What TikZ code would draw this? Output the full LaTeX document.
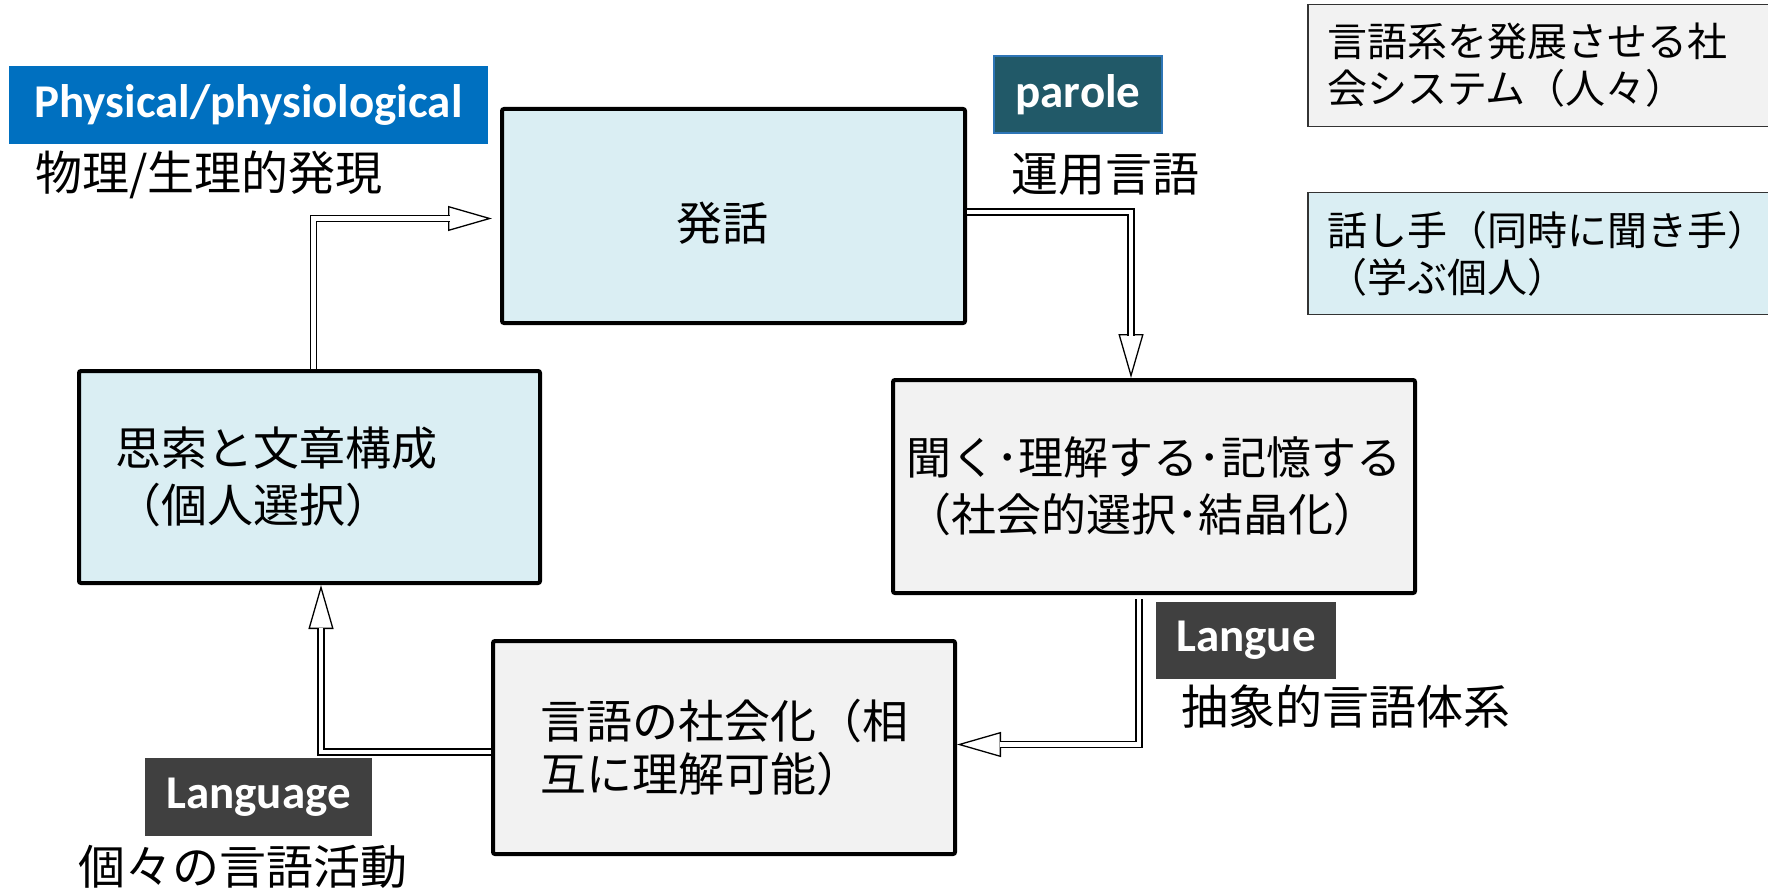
\documentclass[tikz,border=0pt]{standalone}
\usepackage{fontspec}
\newfontfamily\jp{Noto Sans CJK JP}
\newfontfamily\lat{Carlito}
\usetikzlibrary{arrows.meta}
\definecolor{lblue}{HTML}{DAEEF3}
\definecolor{lgray}{HTML}{F2F2F2}
\definecolor{tagblue}{HTML}{0070C0}
\definecolor{tagteal}{HTML}{215968}
\definecolor{tagtealedge}{HTML}{2E75B6}
\definecolor{tagdark}{HTML}{404040}
\begin{document}
\begin{tikzpicture}[x=1pt,y=-1pt,
  mainbox/.style={draw=black, line width=4pt, rounded corners=2pt, inner sep=0pt, align=left},
  sidebox/.style={draw=black!80, line width=1.5pt, inner sep=0pt, minimum width=480pt, minimum height=122pt, font=\jp\fontsize{40}{47}\selectfont, align=left, text width=442pt},
  tag/.style={inner sep=0pt, text=white, font=\lat\bfseries\fontsize{47}{56}\selectfont},
  jplabel/.style={anchor=west, inner sep=0pt, font=\jp\fontsize{47}{56}\selectfont},
  shaft/.style={draw=black, line width=1.3pt, double=white, double distance=4.5pt},
  headpass/.style={draw=white, line width=0.1pt, -{Triangle[length=44pt, width=25pt, color=black, fill=white, line width=1.3pt]}}
]
\useasboundingbox (0,0) rectangle (1768,893);
\clip (0,0) rectangle (1768,893);
\fill[white] (0,0) rectangle (1768,893);

% main boxes
\node[mainbox, fill=lblue, minimum width=463pt, minimum height=214pt, text height=49pt, text depth=0pt, font=\jp\fontsize{46}{57}\selectfont] (usage) at (733.5,216) {\hspace*{-22pt}発話};
\node[mainbox, fill=lblue, minimum width=461pt, minimum height=212pt, text width=389pt, inner xsep=36pt, font=\jp\fontsize{46}{57}\selectfont] (think) at (309.5,477) {思索と文章構成\\（個人選択）};
\node[mainbox, fill=lgray, minimum width=522pt, minimum height=213pt, text width=496pt, font=\jp\fontsize{45}{57}\selectfont] (listen) at (1154,486.5) {聞く･理解する･記憶する\\（社会的選択･結晶化）};
\node[mainbox, fill=lgray, minimum width=462pt, minimum height=213pt, text width=368pt, font=\jp\fontsize{46}{53}\selectfont] (social) at (724,747.5) {言語の社会化（相\\互に理解可能）};

% side boxes
\node[sidebox, fill=lgray] (society) at (1548,65.5) {言語系を発展させる社\\会システム（人々）};
\node[sidebox, fill=lblue] (speaker) at (1548,253.5) {話し手（同時に聞き手）\\（学ぶ個人）};

% tags
\node[tag, fill=tagblue, minimum width=479pt, minimum height=78pt] (phys) at (248.5,105) {Physical/physiological};
\node[tag, fill=tagteal, draw=tagtealedge, line width=1.5pt, minimum width=168pt, minimum height=77pt] (parole) at (1078,94.5) {parole};
\node[tag, fill=tagdark, minimum width=180pt, minimum height=77pt] (langue) at (1246,640.5) {Langue};
\node[tag, fill=tagdark, minimum width=227pt, minimum height=78pt] (language) at (258.5,797) {Language};

% labels
\node[jplabel] (physjp) at (35,175) {物理/生理的発現};
\node[jplabel] (parolejp) at (1011,174) {運用言語};
\node[jplabel] (languejp) at (1181,707) {抽象的言語体系};
\node[jplabel] (languagejp) at (78,867) {個々の言語活動};

% connectors
\draw[headpass, shorten >=8pt] ([xshift=4pt]think.north) |- ([yshift=-2.5pt]usage.west);
\draw[shaft, shorten >=50.5pt] ([xshift=4pt]think.north) |- ([yshift=-2.5pt]usage.west);

\draw[headpass] ([yshift=4pt]usage.east) -| ([xshift=-23pt]listen.north);
\draw[shaft, shorten >=42.5pt] ([yshift=4pt]usage.east) -| ([xshift=-23pt]listen.north);

\draw[headpass, shorten <=4pt] ([xshift=-15pt]listen.south) |- ([yshift=3pt]social.east);
\draw[shaft, shorten <=4pt, shorten >=42.5pt] ([xshift=-15pt]listen.south) |- ([yshift=3pt]social.east);

\draw[headpass] ([yshift=-4.5pt]social.west) -| ([xshift=11.5pt]think.south);
\draw[shaft, shorten >=42.5pt] ([yshift=-4.5pt]social.west) -| ([xshift=11.5pt]think.south);
\end{tikzpicture}
\end{document}
